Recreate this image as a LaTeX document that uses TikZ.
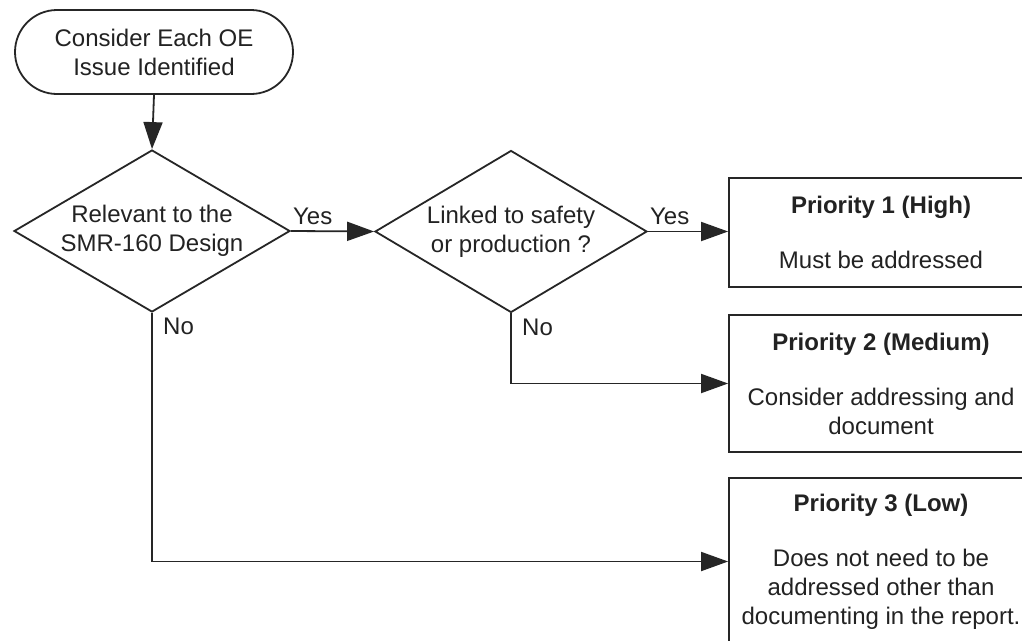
\documentclass[tikz,border=0pt]{standalone}
\usepackage{fontspec}
\setmainfont{Liberation Sans}
\usetikzlibrary{shapes.geometric,shapes.misc,arrows.meta}
\definecolor{txt}{HTML}{222222}
\definecolor{lc}{HTML}{262626}
\begin{document}
\begin{tikzpicture}[x=1pt,y=-1pt,
  every node/.style={font=\fontsize{24}{29}\selectfont, text=txt},
  ln/.style={draw=lc, line width=1.8pt},
  arr/.style={ln, -{Triangle[length=27pt,width=19pt]}},
  decision/.style={diamond, ln, inner sep=0pt, minimum width=#1, minimum height=162pt},
  prio/.style={rectangle, ln, fill=white, align=center, inner sep=0pt, minimum width=304pt, minimum height=#1},
  lbl/.style={inner sep=0pt, anchor=base west},
  intext/.style={align=center, inner sep=0pt}
]
\useasboundingbox (0,0) rectangle (1022,640);
\clip (0,0) rectangle (1022,640);
\fill[white] (0,0) rectangle (1022,640);

% start
\node[rounded rectangle, ln, align=center, minimum width=278pt, minimum height=84pt, inner sep=0pt] (start) at (154,52)
  {Consider Each OE\\Issue Identified};

% decisions
\node[decision=276pt] (d1) at (152,231) {};
\node[intext] (t1) at (d1.center) {Relevant to the\\SMR-160 Design};
\node[decision=272pt] (d2) at (511,231.5) {};
\node[intext] (t2) at (d2.center) {Linked to safety\\or production ?};

% priority boxes
\node[prio=109pt] (b1) at (881,232.5) {\textbf{Priority 1 (High)}\\[26pt]Must be addressed};
\node[prio=137pt] (b2) at (881,383.5) {\textbf{Priority 2 (Medium)}\\[26pt]Consider addressing and\\document};
\node[prio=167pt] (b3) at (881,561.5) {\textbf{Priority 3 (Low)}\\[26pt]Does not need to be\\addressed other than\\documenting in the report.};

% connectors
\draw[arr] (start.south) -- (d1.north);
\draw[arr] (d1.east) -- (d2.west);
\draw[arr] (d2.east) -- (b1.west |- d2.east);
\draw[arr] (d2.south) |- (b2.west);
\draw[arr] (d1.south) |- (b3.west);

% labels
\node[lbl] (y1) at ([shift={(2,-7)}]d1.east) {Yes};
\node[lbl] (y2) at ([shift={(2,-7)}]d2.east) {Yes};
\node[lbl] (n1) at ([shift={(11,21.5)}]d1.south) {No};
\node[lbl] (n2) at ([shift={(11,22.5)}]d2.south) {No};
\end{tikzpicture}
\end{document}
